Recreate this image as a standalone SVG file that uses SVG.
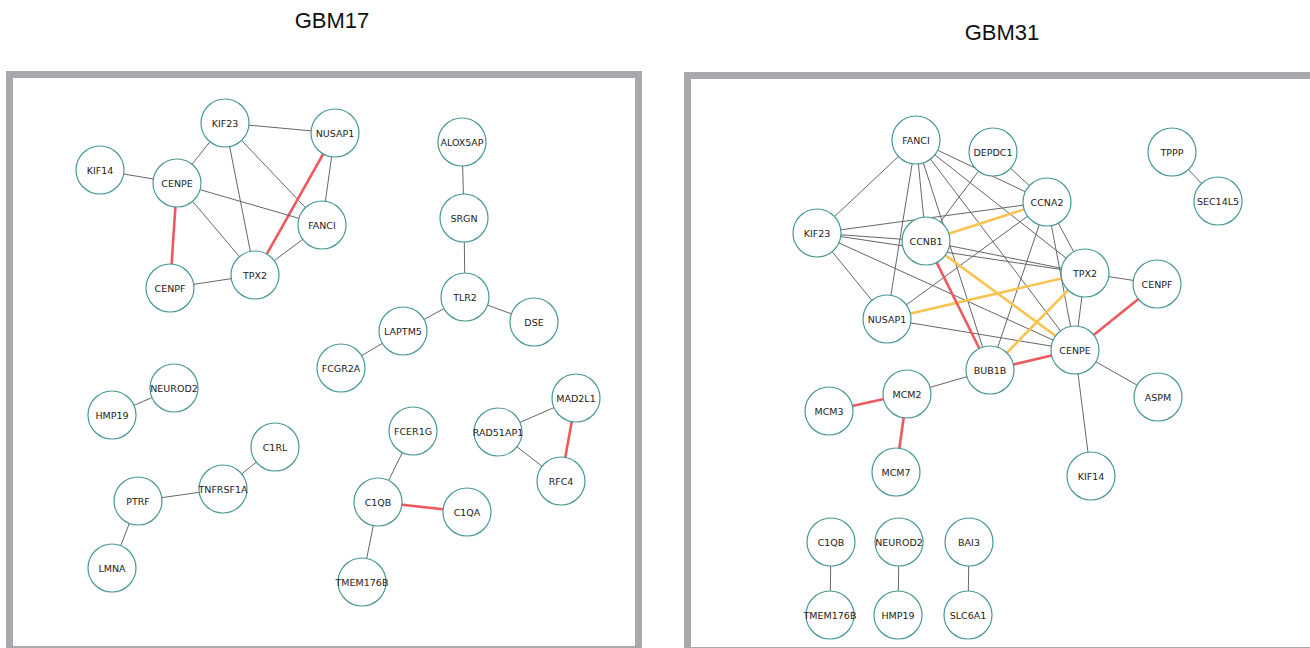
<svg xmlns="http://www.w3.org/2000/svg" width="1310" height="648" viewBox="0 0 1310 648">
<style>
.frame{fill:none;stroke:#a8a9ad;stroke-width:7}
.title{font-family:"Liberation Sans",Arial,sans-serif;font-size:22px;fill:#111;text-anchor:middle}
.n circle{fill:#fff;stroke:#4a9898;stroke-width:1.2}
.n text{font-family:"DejaVu Sans","Liberation Sans",sans-serif;font-size:9.5px;fill:#222;text-anchor:middle;dominant-baseline:central}
.e{stroke:#666;stroke-width:1;fill:none}
.r{stroke:#ec5a60;stroke-width:2.6;fill:none}
.o{stroke:#f8c350;stroke-width:2.6;fill:none}
</style>
<rect width="1310" height="648" fill="#fff"/>
<text class="title" x="332" y="28">GBM17</text>
<text class="title" x="1002" y="40">GBM31</text>
<rect class="frame" x="9.5" y="74.5" width="629" height="575"/>
<rect class="frame" x="687.5" y="75.5" width="640" height="575"/>
<g id="connectors">
<!-- GBM17 -->
<line class="e" x1="225" y1="123" x2="335" y2="133"/>
<line class="e" x1="225" y1="123" x2="177" y2="183"/>
<line class="e" x1="225" y1="123" x2="255" y2="275"/>
<line class="e" x1="225" y1="123" x2="322" y2="225"/>
<line class="e" x1="335" y1="133" x2="322" y2="225"/>
<line class="r" x1="335" y1="133" x2="255" y2="275"/>
<line class="e" x1="100" y1="170" x2="177" y2="183"/>
<line class="e" x1="177" y1="183" x2="322" y2="225"/>
<line class="e" x1="177" y1="183" x2="255" y2="275"/>
<line class="r" x1="177" y1="183" x2="170" y2="288"/>
<line class="e" x1="170" y1="288" x2="255" y2="275"/>
<line class="e" x1="322" y1="225" x2="255" y2="275"/>
<line class="e" x1="462" y1="142" x2="464" y2="218"/>
<line class="e" x1="464" y1="218" x2="465" y2="297"/>
<line class="e" x1="465" y1="297" x2="534" y2="322"/>
<line class="e" x1="465" y1="297" x2="403" y2="331"/>
<line class="e" x1="403" y1="331" x2="341" y2="368"/>
<line class="e" x1="174" y1="388" x2="112" y2="415"/>
<line class="e" x1="275" y1="447" x2="223" y2="489"/>
<line class="e" x1="223" y1="489" x2="138" y2="501"/>
<line class="e" x1="138" y1="501" x2="112" y2="568"/>
<line class="e" x1="413" y1="431" x2="378" y2="502"/>
<line class="r" x1="378" y1="502" x2="467" y2="512"/>
<line class="e" x1="378" y1="502" x2="362" y2="582"/>
<line class="e" x1="498" y1="432" x2="576" y2="398"/>
<line class="e" x1="498" y1="432" x2="561" y2="481"/>
<line class="r" x1="576" y1="398" x2="561" y2="481"/>
<!-- GBM31 -->
<line class="e" x1="916" y1="140" x2="817" y2="233"/>
<line class="e" x1="916" y1="140" x2="887" y2="319"/>
<line class="e" x1="916" y1="140" x2="926" y2="241"/>
<line class="e" x1="916" y1="140" x2="990" y2="370"/>
<line class="e" x1="916" y1="140" x2="1075" y2="350"/>
<line class="e" x1="916" y1="140" x2="1085" y2="273"/>
<line class="e" x1="916" y1="140" x2="1047" y2="202"/>
<line class="e" x1="993" y1="152" x2="926" y2="241"/>
<line class="e" x1="993" y1="152" x2="1047" y2="202"/>
<line class="e" x1="817" y1="233" x2="1047" y2="202"/>
<line class="e" x1="817" y1="233" x2="926" y2="241"/>
<line class="e" x1="817" y1="233" x2="1085" y2="273"/>
<line class="e" x1="817" y1="233" x2="1075" y2="350"/>
<line class="e" x1="817" y1="233" x2="887" y2="319"/>
<line class="e" x1="1047" y1="202" x2="887" y2="319"/>
<line class="e" x1="1047" y1="202" x2="990" y2="370"/>
<line class="e" x1="1047" y1="202" x2="1075" y2="350"/>
<line class="e" x1="1047" y1="202" x2="1085" y2="273"/>
<line class="e" x1="926" y1="241" x2="1085" y2="273"/>
<line class="e" x1="887" y1="319" x2="1075" y2="350"/>
<line class="e" x1="1085" y1="273" x2="1075" y2="350"/>
<line class="e" x1="1085" y1="273" x2="1157" y2="284"/>
<line class="e" x1="1075" y1="350" x2="1158" y2="397"/>
<line class="e" x1="1075" y1="350" x2="1091" y2="476"/>
<line class="e" x1="990" y1="370" x2="907" y2="394"/>
<line class="e" x1="1172" y1="152" x2="1218" y2="201"/>
<line class="e" x1="831" y1="542" x2="830" y2="615"/>
<line class="e" x1="899" y1="542" x2="898" y2="615"/>
<line class="e" x1="969" y1="542" x2="968" y2="615"/>
<line class="o" x1="1047" y1="202" x2="926" y2="241"/>
<line class="o" x1="926" y1="241" x2="1075" y2="350"/>
<line class="o" x1="887" y1="319" x2="1085" y2="273"/>
<line class="o" x1="1085" y1="273" x2="990" y2="370"/>
<line class="r" x1="926" y1="241" x2="990" y2="370"/>
<line class="r" x1="990" y1="370" x2="1075" y2="350"/>
<line class="r" x1="1075" y1="350" x2="1157" y2="284"/>
<line class="r" x1="907" y1="394" x2="829" y2="411"/>
<line class="r" x1="907" y1="394" x2="896" y2="472"/>
</g>
<g id="n-l-kif23" class="n"><circle cx="225" cy="123" r="24"/><text x="225" y="123">KIF23</text></g>
<g id="n-l-nusap1" class="n"><circle cx="335" cy="133" r="24"/><text x="335" y="133">NUSAP1</text></g>
<g id="n-l-kif14" class="n"><circle cx="100" cy="170" r="24"/><text x="100" y="170">KIF14</text></g>
<g id="n-l-cenpe" class="n"><circle cx="177" cy="183" r="24"/><text x="177" y="183">CENPE</text></g>
<g id="n-l-fanci" class="n"><circle cx="322" cy="225" r="24"/><text x="322" y="225">FANCI</text></g>
<g id="n-l-cenpf" class="n"><circle cx="170" cy="288" r="24"/><text x="170" y="288">CENPF</text></g>
<g id="n-l-tpx2" class="n"><circle cx="255" cy="275" r="24"/><text x="255" y="275">TPX2</text></g>
<g id="n-l-alox5ap" class="n"><circle cx="462" cy="142" r="24"/><text x="462" y="142">ALOX5AP</text></g>
<g id="n-l-srgn" class="n"><circle cx="464" cy="218" r="24"/><text x="464" y="218">SRGN</text></g>
<g id="n-l-tlr2" class="n"><circle cx="465" cy="297" r="24"/><text x="465" y="297">TLR2</text></g>
<g id="n-l-dse" class="n"><circle cx="534" cy="322" r="24"/><text x="534" y="322">DSE</text></g>
<g id="n-l-laptm5" class="n"><circle cx="403" cy="331" r="24"/><text x="403" y="331">LAPTM5</text></g>
<g id="n-l-fcgr2a" class="n"><circle cx="341" cy="368" r="24"/><text x="341" y="368">FCGR2A</text></g>
<g id="n-l-neurod2" class="n"><circle cx="174" cy="388" r="24"/><text x="174" y="388">NEUROD2</text></g>
<g id="n-l-hmp19" class="n"><circle cx="112" cy="415" r="24"/><text x="112" y="415">HMP19</text></g>
<g id="n-l-c1rl" class="n"><circle cx="275" cy="447" r="24"/><text x="275" y="447">C1RL</text></g>
<g id="n-l-tnfrsf1a" class="n"><circle cx="223" cy="489" r="24"/><text x="223" y="489">TNFRSF1A</text></g>
<g id="n-l-ptrf" class="n"><circle cx="138" cy="501" r="24"/><text x="138" y="501">PTRF</text></g>
<g id="n-l-lmna" class="n"><circle cx="112" cy="568" r="24"/><text x="112" y="568">LMNA</text></g>
<g id="n-l-fcer1g" class="n"><circle cx="413" cy="431" r="24"/><text x="413" y="431">FCER1G</text></g>
<g id="n-l-c1qb" class="n"><circle cx="378" cy="502" r="24"/><text x="378" y="502">C1QB</text></g>
<g id="n-l-c1qa" class="n"><circle cx="467" cy="512" r="24"/><text x="467" y="512">C1QA</text></g>
<g id="n-l-tmem176b" class="n"><circle cx="362" cy="582" r="24"/><text x="362" y="582">TMEM176B</text></g>
<g id="n-l-rad51ap1" class="n"><circle cx="498" cy="432" r="24"/><text x="498" y="432">RAD51AP1</text></g>
<g id="n-l-mad2l1" class="n"><circle cx="576" cy="398" r="24"/><text x="576" y="398">MAD2L1</text></g>
<g id="n-l-rfc4" class="n"><circle cx="561" cy="481" r="24"/><text x="561" y="481">RFC4</text></g>
<g id="n-r-fanci" class="n"><circle cx="916" cy="140" r="24"/><text x="916" y="140">FANCI</text></g>
<g id="n-r-depdc1" class="n"><circle cx="993" cy="152" r="24"/><text x="993" y="152">DEPDC1</text></g>
<g id="n-r-ccna2" class="n"><circle cx="1047" cy="202" r="24"/><text x="1047" y="202">CCNA2</text></g>
<g id="n-r-kif23" class="n"><circle cx="817" cy="233" r="24"/><text x="817" y="233">KIF23</text></g>
<g id="n-r-ccnb1" class="n"><circle cx="926" cy="241" r="24"/><text x="926" y="241">CCNB1</text></g>
<g id="n-r-tpx2" class="n"><circle cx="1085" cy="273" r="24"/><text x="1085" y="273">TPX2</text></g>
<g id="n-r-cenpf" class="n"><circle cx="1157" cy="284" r="24"/><text x="1157" y="284">CENPF</text></g>
<g id="n-r-nusap1" class="n"><circle cx="887" cy="319" r="24"/><text x="887" y="319">NUSAP1</text></g>
<g id="n-r-cenpe" class="n"><circle cx="1075" cy="350" r="24"/><text x="1075" y="350">CENPE</text></g>
<g id="n-r-bub1b" class="n"><circle cx="990" cy="370" r="24"/><text x="990" y="370">BUB1B</text></g>
<g id="n-r-aspm" class="n"><circle cx="1158" cy="397" r="24"/><text x="1158" y="397">ASPM</text></g>
<g id="n-r-kif14" class="n"><circle cx="1091" cy="476" r="24"/><text x="1091" y="476">KIF14</text></g>
<g id="n-r-mcm2" class="n"><circle cx="907" cy="394" r="24"/><text x="907" y="394">MCM2</text></g>
<g id="n-r-mcm3" class="n"><circle cx="829" cy="411" r="24"/><text x="829" y="411">MCM3</text></g>
<g id="n-r-mcm7" class="n"><circle cx="896" cy="472" r="24"/><text x="896" y="472">MCM7</text></g>
<g id="n-r-tppp" class="n"><circle cx="1172" cy="152" r="24"/><text x="1172" y="152">TPPP</text></g>
<g id="n-r-sec14l5" class="n"><circle cx="1218" cy="201" r="24"/><text x="1218" y="201">SEC14L5</text></g>
<g id="n-r-c1qb" class="n"><circle cx="831" cy="542" r="24"/><text x="831" y="542">C1QB</text></g>
<g id="n-r-tmem176b" class="n"><circle cx="830" cy="615" r="24"/><text x="830" y="615">TMEM176B</text></g>
<g id="n-r-neurod2" class="n"><circle cx="899" cy="542" r="24"/><text x="899" y="542">NEUROD2</text></g>
<g id="n-r-hmp19" class="n"><circle cx="898" cy="615" r="24"/><text x="898" y="615">HMP19</text></g>
<g id="n-r-bai3" class="n"><circle cx="969" cy="542" r="24"/><text x="969" y="542">BAI3</text></g>
<g id="n-r-slc6a1" class="n"><circle cx="968" cy="615" r="24"/><text x="968" y="615">SLC6A1</text></g>
</svg>
